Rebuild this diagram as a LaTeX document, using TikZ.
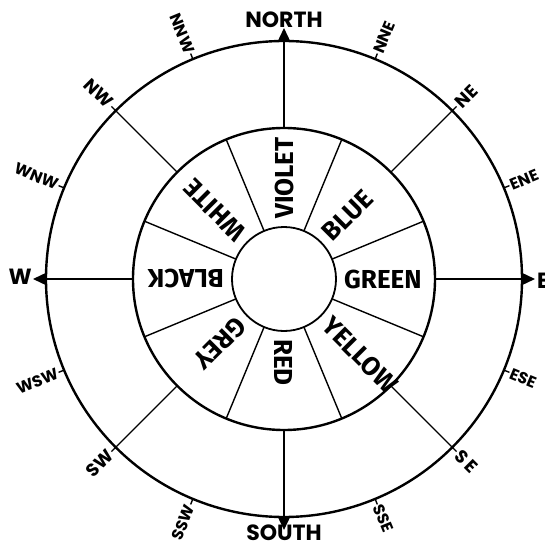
\documentclass[tikz,border=0pt]{standalone}
\usepackage{fontspec}
\setmainfont{Fira Sans}
\newfontfamily\wide{Poppins}
\usetikzlibrary{arrows.meta}
\begin{document}
\begin{tikzpicture}[x=1pt,y=1pt,
  ring/.style={line width=2.4pt},
  spoke/.style={line width=1.4pt},
  colorlbl/.style={font=\fontsize{26}{26}\selectfont\bfseries, inner sep=0pt, anchor=west},
  mainlbl/.style={font=\wide\fontsize{22}{22}\selectfont\bfseries, inner sep=0pt},
  midlbl/.style={font=\wide\fontsize{18}{18}\selectfont\bfseries, inner sep=0pt},
  minlbl/.style={font=\wide\fontsize{16}{16}\selectfont\bfseries, inner sep=0pt},
  tip/.style={-{Triangle[width=12pt,length=13pt]}}]
\useasboundingbox (-284,-267) rectangle (260,279);
\coordinate (O) at (0,0);
\draw[ring] (O) circle (238);
\draw[ring] (O) circle (151);
\draw[line width=1.8pt] (O) circle (52);
% sector dividers
\foreach \a [count=\i] in {22.5,67.5,...,337.5}{
  \coordinate (din\i) at (\a:52);
  \coordinate (dout\i) at (\a:151);
  \draw[spoke] (din\i) -- (dout\i);
}
% colour labels
\foreach \a/\t/\n in {90/VIOLET/violet,45/BLUE/blue,0/GREEN/green,-45/YELLOW/yellow,
  -90/RED/red,-135/GREY/grey,180/BLACK/black,135/WHITE/white}{
  \node[colorlbl, rotate=\a] (\n) at (\a:60) {\t};
}
% cardinal spokes with arrowheads
\foreach \a/\n in {90/N,0/E,-90/S,180/W}{
  \coordinate (s\n) at (\a:151);
  \coordinate (t\n) at (\a:251);
  \draw[spoke] (s\n) -- (\a:238);
  \draw[spoke,tip] (\a:236) -- (t\n);
}
% diagonal spokes
\foreach \a/\n in {45/NE,-45/SE,-135/SW,135/NW}{
  \coordinate (s\n) at (\a:151);
  \coordinate (t\n) at (\a:244);
  \draw[spoke] (s\n) -- (t\n);
}
% minor ticks
\foreach \a/\n in {67.5/NNE,22.5/ENE,-22.5/ESE,-67.5/SSE,-112.5/SSW,-157.5/WSW,157.5/WNW,112.5/NNW}{
  \coordinate (m\n) at (\a:238);
  \coordinate (k\n) at (\a:244);
  \draw[spoke] (m\n) -- (k\n);
}
% cardinal labels
\node[mainlbl] (north) at (0,259) {NORTH};
\node[mainlbl] (south) at (0,-254) {SOUTH};
\node[mainlbl, anchor=west] (east) at (253,-2) {E};
\node[mainlbl, anchor=east] (west) at (-252,2) {W};
% diagonal labels
\node[midlbl, anchor=west, rotate=45] (lNE) at (45:246) {NE};
\node[midlbl, anchor=west, rotate=-45] (lSE) at (-45:246) {S\,E};
\node[midlbl, anchor=east, rotate=45] (lSW) at (-135:246) {SW};
\node[midlbl, anchor=east, rotate=-45] (lNW) at (135:246) {NW};
% minor labels
\node[minlbl, anchor=west, rotate=67.5] (lNNE) at (67.5:245) {NNE};
\node[minlbl, anchor=west, rotate=22.5] (lENE) at (22.5:245) {ENE};
\node[minlbl, anchor=west, rotate=-22.5] (lESE) at (-22.5:245) {ESE};
\node[minlbl, anchor=west, rotate=-67.5] (lSSE) at (-67.5:245) {SSE};
\node[minlbl, anchor=east, rotate=67.5] (lSSW) at (-112.5:245) {SSW};
\node[minlbl, anchor=east, rotate=22.5] (lWSW) at (-157.5:245) {WSW};
\node[minlbl, anchor=east, rotate=-22.5] (lWNW) at (157.5:245) {WNW};
\node[minlbl, anchor=east, rotate=-67.5] (lNNW) at (112.5:245) {NNW};
\end{tikzpicture}
\end{document}
